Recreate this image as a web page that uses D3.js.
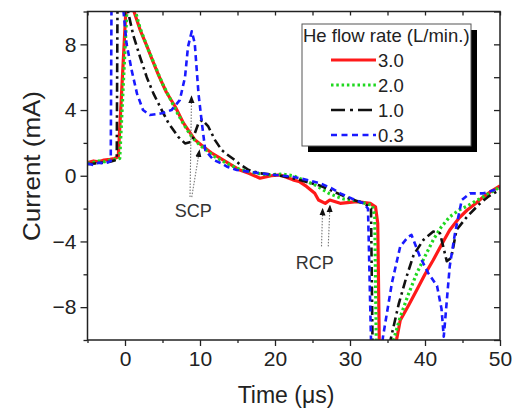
<!DOCTYPE html>
<html>
<head>
<meta charset="utf-8">
<script src="https://cdn.jsdelivr.net/npm/d3@7"></script>
<style>
  body { margin: 0; background: #fff; }
  svg { display: block; font-family: "Liberation Sans", Arial, sans-serif; }
  .axis text { fill: #222; }
  .axis path, .axis line { stroke: #222; stroke-width: 1.3; }
</style>
</head>
<body>
<div id="chart"></div>
<script>
/* Series: [time (us), current (mA)] */
const flow30 = [[-5,0.8],[-4.2,0.9],[-3.5,0.85],[-2.8,0.95],[-2,1.0],[-1.4,1.05],[-0.9,1.15],[0.2,10.8],[0.8,11.5],[1.2,10.0],
  [2,8.9],[3,7.8],[3.6,7.1],[4.5,6.1],[5.5,5.1],[6.7,4.2],[7.8,3.2],[9.3,2.2],[10.5,1.75],[11.5,1.4],[12.4,1.15],[13.5,0.85],
  [15.3,0.35],[16.5,0.15],[18,-0.15],[19.5,0.0],[20.7,0.05],[22.4,-0.25],[23.3,-0.37],[24.2,-0.65],[25.3,-1.07],[25.8,-1.48],
  [26.7,-1.68],[27.3,-1.48],[28.7,-1.68],[30.9,-1.58],[32.7,-1.68],[33.4,-1.89],[33.7,-2.9],[33.9,-10],[34.8,-12],[35.6,-11.5],
  [36.2,-10],[36.7,-8.8],[37.8,-7.9],[38.9,-6.96],[40,-6.0],[41.1,-5.13],[42.2,-4.2],[43.3,-3.3],[44.5,-2.6],[45.6,-2.1],
  [46.7,-1.7],[47.8,-1.28],[48.8,-0.95],[50,-0.62]];

const flow20 = [[-5,0.75],[-4.3,0.8],[-3.5,0.9],[-2.7,0.85],[-2,0.95],[-1.2,1.0],[-0.7,1.05],[0.3,10.5],[0.9,11.5],[1.4,10.0],
  [2,9.0],[3,7.8],[4,6.7],[5,5.6],[6,4.7],[7,3.8],[8,3.0],[9,2.3],[10,1.85],[11,1.5],[12,1.15],[13,0.9],[14,0.65],[15.3,0.4],
  [17,0.2],[19,0.05],[21,0.1],[22.4,0.0],[24,-0.3],[25.5,-0.6],[27.3,-1.1],[29,-1.4],[30.5,-1.5],[31.8,-1.65],[33,-1.8],
  [33.3,-2.5],[33.5,-10],[34.5,-12],[35.3,-11],[35.8,-10],[36.7,-8.6],[37.8,-7.2],[38.9,-5.94],[40,-4.9],[41.1,-3.9],
  [42.2,-3.1],[43.3,-2.5],[44.5,-2.1],[45.6,-1.85],[46.7,-1.55],[47.8,-1.28],[48.8,-1.0],[50,-0.7]];

const flow10 = [[-5,0.7],[-4,0.75],[-3,0.8],[-2,0.85],[-1.3,0.95],[-1.1,1.0],[-1.0,10.5],[-0.5,11.5],[0.4,10],[1.1,8.56],
  [2,7.24],[2.9,6.0],[3.8,5.0],[4.9,4.0],[5.8,3.2],[7.1,2.37],[8,1.97],[8.9,2.07],[9.8,3.2],[10.3,3.4],[11.1,3.0],[12,2.17],
  [12.9,1.56],[13.6,1.3],[14.5,1.0],[15.3,0.7],[16.5,0.35],[18,0.15],[20,0.05],[22,-0.1],[24,-0.35],[26,-0.6],[28,-1.0],
  [30,-1.4],[32,-1.7],[32.8,-2.0],[33.0,-10],[33.8,-12],[35,-11],[35.4,-10],[36.5,-7.8],[37.5,-6.2],[38.5,-4.8],[39.8,-3.9],
  [41.1,-3.4],[42,-3.5],[42.9,-5.2],[43.5,-5.0],[44.2,-3.3],[45.6,-2.5],[47.3,-1.7],[48.5,-1.25],[50,-0.85]];

const flow03 = [[-5,0.75],[-4.2,0.65],[-3.5,0.8],[-2.7,0.75],[-2.1,0.85],[-1.9,0.9],[-1.8,10.5],[-1.0,12],[-0.2,10],[0.2,8.06],
  [0.9,6.4],[1.6,5.0],[2.4,4.0],[3.3,3.7],[4.1,3.75],[4.9,3.8],[6.2,4.0],[7.3,4.6],[8,6.0],[8.4,7.85],[8.9,8.8],[9.3,8.06],
  [9.8,5.0],[10.2,3.4],[10.7,1.56],[11.8,0.96],[12.9,0.75],[13.6,0.55],[14.9,0.35],[16.5,0.25],[18,0.15],[20,0.05],
  [22.4,-0.06],[24.7,-0.3],[26,-0.46],[27.5,-0.75],[28.7,-1.07],[30.3,-1.4],[31.8,-1.68],[32.4,-2.0],[32.8,-10],[33.5,-12],
  [34.1,-11],[34.4,-9.8],[35.6,-6.5],[36.7,-4.3],[37.8,-3.7],[38.2,-3.6],[39.3,-4.9],[40.4,-5.9],[41.6,-6.7],[42.2,-8.1],
  [42.5,-9.8],[43.3,-5.5],[44,-3.5],[44.9,-1.48],[46,-1.07],[47.8,-1.07],[49,-0.9],[50,-0.75]];

const seriesLabels = ['3.0', '2.0', '1.0', '0.3'];
const xMajor = [0, 10, 20, 30, 40, 50];
const xMinor = [-5, 5, 15, 25, 35, 45];
const yMajor = [-8, -4, 0, 4, 8];
const yMinor = [-10, -6, -2, 2, 6, 10];

/* annotation arrows: [from, to] in data units */
const scpArrows = [[[8.67, -1.3], [8.87, 4.85]], [[8.9, -1.3], [9.93, 1.56]]];
const rcpArrows = [[[26.2, -4.3], [26.35, -2.0]], [[27.1, -4.3], [27.33, -1.8]]];

const styles = [
  { data: flow30, color: '#ff1a1a', width: 3.2, dash: null, legendDash: null },
  { data: flow20, color: '#1fd81f', width: 3.2, dash: '2.5,2.8', legendDash: '2.5,2.8' },
  { data: flow10, color: '#111', width: 2.6, dash: '9,4,2.5,4', legendDash: '14,5,3,5' },
  { data: flow03, color: '#1a1aff', width: 2.6, dash: '6,4', legendDash: '6,4.5' }
];

const svg = d3.select('#chart').append('svg')
    .attr('width', 520)
    .attr('height', 410);

const x = d3.scaleLinear().domain([-5, 50]).range([87.5, 500]);
const y = d3.scaleLinear().domain([-10, 10]).range([340, 11.5]);

svg.append('clipPath').attr('id', 'plot')
  .append('rect')
    .attr('x', x(-5)).attr('y', y(10))
    .attr('width', x(50) - x(-5)).attr('height', y(-10) - y(10));

const line = d3.line().x(d => x(d[0])).y(d => y(d[1]));

const lines = svg.append('g').attr('clip-path', 'url(#plot)');
styles.forEach(s => {
  lines.append('path')
    .datum(s.data)
    .attr('d', line)
    .attr('fill', 'none')
    .attr('stroke', s.color)
    .attr('stroke-width', s.width)
    .attr('stroke-linejoin', 'round')
    .attr('stroke-dasharray', s.dash);
});

/* Axes: outward ticks on bottom/left, inward on top/right */
function axisStyle(g) {
  g.attr('class', 'axis').select('.domain').remove();
  g.selectAll('text').attr('font-size', 21);
}
svg.append('g').attr('transform', `translate(0,${y(-10)})`)
  .call(d3.axisBottom(x).tickValues(xMajor).tickSize(6).tickPadding(5))
  .call(axisStyle);
svg.append('g').attr('transform', `translate(0,${y(-10)})`)
  .call(d3.axisBottom(x).tickValues(xMinor).tickSize(3).tickFormat(''))
  .call(axisStyle);
svg.append('g').attr('transform', `translate(${x(-5)},0)`)
  .call(d3.axisLeft(y).tickValues(yMajor).tickSize(7).tickPadding(4))
  .call(axisStyle);
svg.append('g').attr('transform', `translate(${x(-5)},0)`)
  .call(d3.axisLeft(y).tickValues(yMinor).tickSize(4).tickFormat(''))
  .call(axisStyle);
svg.append('g').attr('transform', `translate(0,${y(10)})`)
  .call(d3.axisBottom(x).tickValues(xMajor.concat(xMinor)).tickSize(4).tickFormat(''))
  .call(axisStyle);
svg.append('g').attr('transform', `translate(${x(50)},0)`)
  .call(d3.axisLeft(y).tickValues(yMajor.concat(yMinor)).tickSize(6).tickFormat(''))
  .call(axisStyle);

svg.append('rect')
    .attr('x', x(-5)).attr('y', y(10))
    .attr('width', x(50) - x(-5)).attr('height', y(-10) - y(10))
    .attr('fill', 'none').attr('stroke', '#222').attr('stroke-width', 1.5);

/* Axis titles */
svg.append('text')
    .attr('transform', 'translate(40,166) rotate(-90)')
    .attr('text-anchor', 'middle')
    .attr('font-size', 24)
    .attr('fill', '#222')
    .attr('textLength', 150).attr('lengthAdjust', 'spacingAndGlyphs')
    .text('Current (mA)');
svg.append('text')
    .attr('x', 286).attr('y', 403)
    .attr('text-anchor', 'middle')
    .attr('font-size', 23)
    .attr('fill', '#222')
    .text('Time (\u03bcs)');

/* Annotations */
svg.append('defs').append('marker')
    .attr('id', 'head')
    .attr('viewBox', '0 0 10 10')
    .attr('refX', 9).attr('refY', 5)
    .attr('markerWidth', 7).attr('markerHeight', 7)
    .attr('orient', 'auto')
  .append('path').attr('d', 'M0,1L10,5L0,9Z').attr('fill', '#111');

const notes = svg.append('g');
scpArrows.concat(rcpArrows).forEach(([a, b]) => {
  notes.append('line')
    .attr('x1', x(a[0])).attr('y1', y(a[1]))
    .attr('x2', x(b[0])).attr('y2', y(b[1]))
    .attr('stroke', '#777').attr('stroke-width', 1.1)
    .attr('stroke-dasharray', '1.5,1.5')
    .attr('marker-end', 'url(#head)');
});
notes.append('text')
    .attr('x', x(9.1)).attr('y', y(-2.5))
    .attr('text-anchor', 'middle').attr('font-size', 18).attr('fill', '#333')
    .text('SCP');
notes.append('text')
    .attr('x', x(25.3)).attr('y', y(-5.7))
    .attr('text-anchor', 'middle').attr('font-size', 18).attr('fill', '#333')
    .text('RCP');

/* Legend */
const legend = svg.append('g').attr('transform', 'translate(302,24)');
legend.append('rect')
    .attr('x', 6).attr('y', 6).attr('width', 169).attr('height', 122)
    .attr('fill', '#000');
legend.append('rect')
    .attr('width', 169).attr('height', 122)
    .attr('fill', '#fff').attr('stroke', '#555').attr('stroke-width', 1);
legend.append('text')
    .attr('x', 1).attr('y', 18)
    .attr('font-size', 18.5).attr('fill', '#222')
    .text('He flow rate (L/min.)');

const rows = legend.selectAll('g.row')
  .data(styles)
  .join('g')
    .attr('class', 'row')
    .attr('transform', (d, i) => `translate(0,${36 + i * 25})`);
rows.append('line')
    .attr('x1', 29).attr('x2', 74)
    .attr('stroke', d => d.color)
    .attr('stroke-width', d => d.width)
    .attr('stroke-dasharray', d => d.legendDash);
rows.append('text')
    .attr('x', 76).attr('y', 7)
    .attr('font-size', 18.5).attr('fill', '#222')
    .text((d, i) => seriesLabels[i]);
</script>
</body>
</html>
